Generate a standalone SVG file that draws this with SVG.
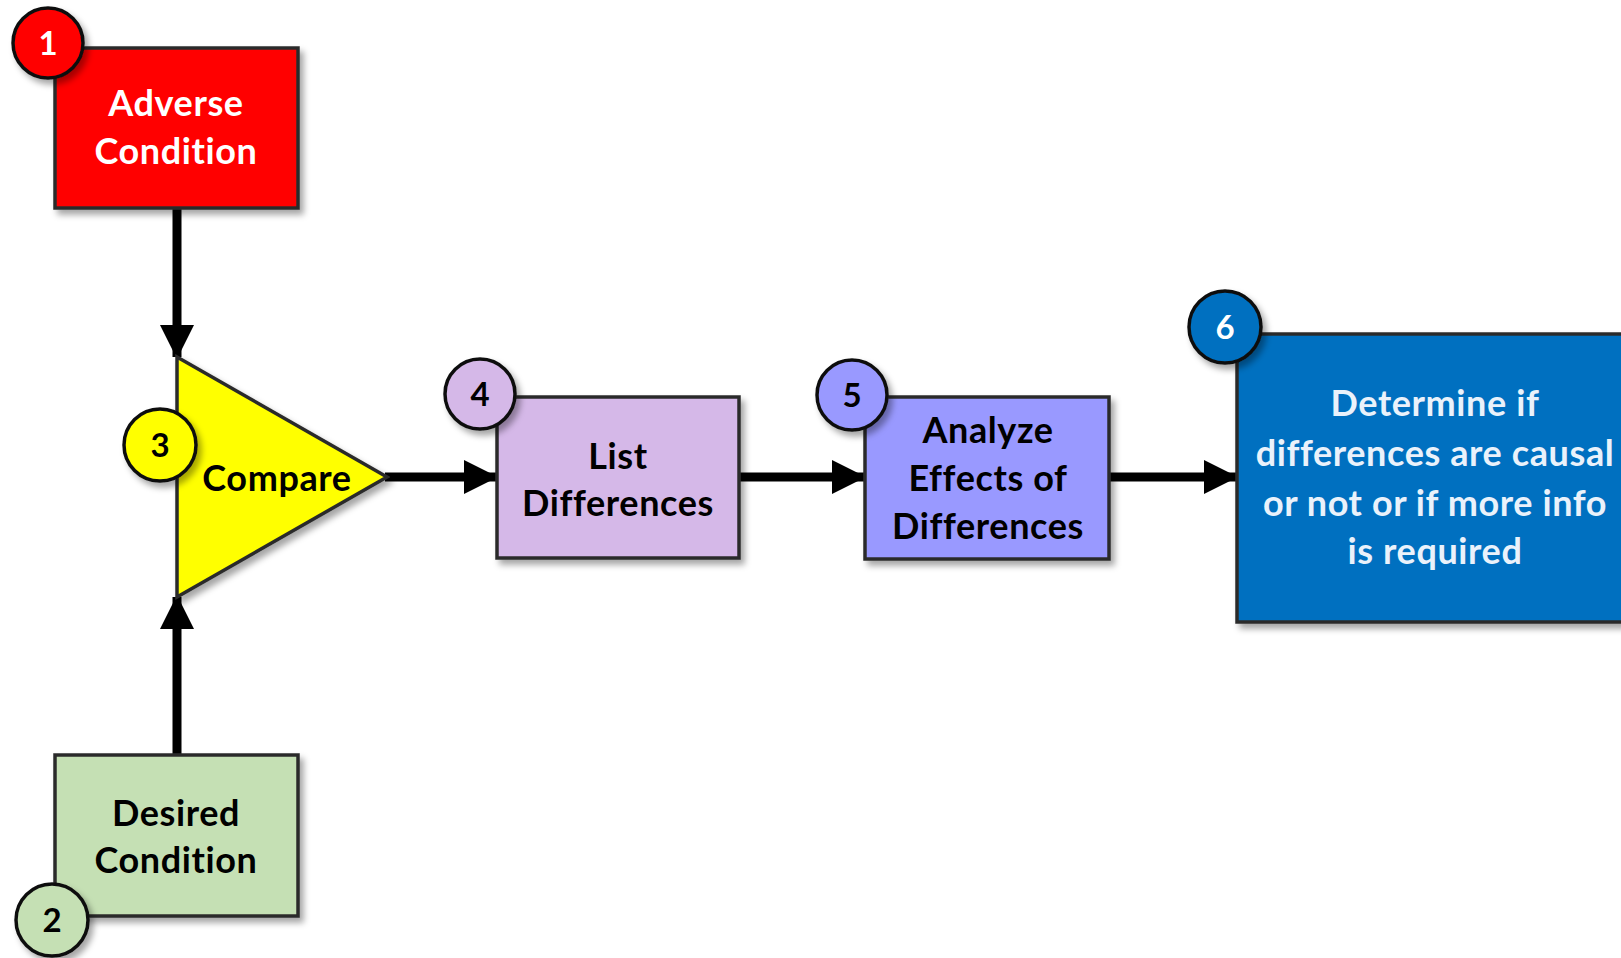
<svg xmlns="http://www.w3.org/2000/svg" width="1621" height="958" viewBox="0 0 1621 958">
<style>
.box{stroke:#2b2b2b;stroke-width:3.5;filter:url(#sh)}
.num{stroke:#111;stroke-width:3.5;filter:url(#sh)}
.t{font-family:Lato,"Open Sans","Liberation Sans",sans-serif;font-weight:bold;font-size:36px;letter-spacing:0.6px;font-variant-ligatures:none;text-anchor:middle}
.n{font-family:Lato,"Open Sans","Liberation Sans",sans-serif;font-weight:bold;font-size:33px;text-anchor:middle}
.conn{stroke:#000;stroke-width:9;fill:none;marker-end:url(#ah)}
</style>
<defs>
<filter id="sh" x="-20%" y="-20%" width="150%" height="150%">
<feDropShadow dx="4" dy="5" stdDeviation="3" flood-color="#000" flood-opacity="0.35"/>
</filter>
<marker id="ah" markerUnits="userSpaceOnUse" markerWidth="34" markerHeight="34" refX="32" refY="17" orient="auto">
<path d="M0,0 L34,17 L0,34 Z" fill="#000"/>
</marker>
</defs>
<rect width="1621" height="958" fill="#fff"/>
<g id="connectors">
<line class="conn" x1="177" y1="208" x2="177" y2="357"/>
<line class="conn" x1="177" y1="755" x2="177" y2="597"/>
<line class="conn" x1="385" y1="477" x2="496" y2="477"/>
<line class="conn" x1="739" y1="477" x2="864" y2="477"/>
<line class="conn" x1="1109" y1="477" x2="1236" y2="477"/>
</g>
<g id="node1">
<rect class="box" x="55" y="48" width="243" height="160" fill="#ff0000"/>
<text class="t" x="176" y="116" fill="#fff">Adverse</text>
<text class="t" x="176" y="164" fill="#fff">Condition</text>
<circle class="num" cx="48" cy="43" r="35" fill="#ff0000"/>
<text class="n" x="48" y="55" fill="#fff">1</text>
</g>
<g id="node2">
<rect class="box" x="55" y="755" width="243" height="161" fill="#c5e0b4"/>
<text class="t" x="176" y="826" fill="#000">Desired</text>
<text class="t" x="176" y="873" fill="#000">Condition</text>
<circle class="num" cx="52" cy="920" r="36" fill="#c5e0b4"/>
<text class="n" x="52" y="932" fill="#000">2</text>
</g>
<g id="node3">
<path class="box" d="M177,357 L387,477 L177,597 Z" fill="#ffff00"/>
<text class="t" x="277" y="491" fill="#000">Compare</text>
<circle class="num" cx="160" cy="445" r="36" fill="#ffff00"/>
<text class="n" x="160" y="457" fill="#000">3</text>
</g>
<g id="node4">
<rect class="box" x="497" y="397" width="242" height="161" fill="#d5b8e8"/>
<text class="t" x="618" y="469" fill="#000">List</text>
<text class="t" x="618" y="516" fill="#000">Differences</text>
<circle class="num" cx="480" cy="394" r="35" fill="#d5b8e8"/>
<text class="n" x="480" y="406" fill="#000">4</text>
</g>
<g id="node5">
<rect class="box" x="865" y="397" width="244" height="162" fill="#9999ff"/>
<text class="t" x="988" y="443" fill="#000">Analyze</text>
<text class="t" x="988" y="491" fill="#000">Effects of</text>
<text class="t" x="988" y="539" fill="#000">Differences</text>
<circle class="num" cx="852" cy="395" r="35" fill="#9999ff"/>
<text class="n" x="852" y="407" fill="#000">5</text>
</g>
<g id="node6">
<rect class="box" x="1237" y="334" width="400" height="288" fill="#0070c0"/>
<text class="t" x="1435" y="416" fill="#eaf2fb">Determine if</text>
<text class="t" x="1435" y="466" fill="#eaf2fb">differences are causal</text>
<text class="t" x="1435" y="516" fill="#eaf2fb">or not or if more info</text>
<text class="t" x="1435" y="564" fill="#eaf2fb">is required</text>
<circle class="num" cx="1225" cy="327" r="36" fill="#0070c0"/>
<text class="n" x="1225" y="339" fill="#fff">6</text>
</g>
</svg>
